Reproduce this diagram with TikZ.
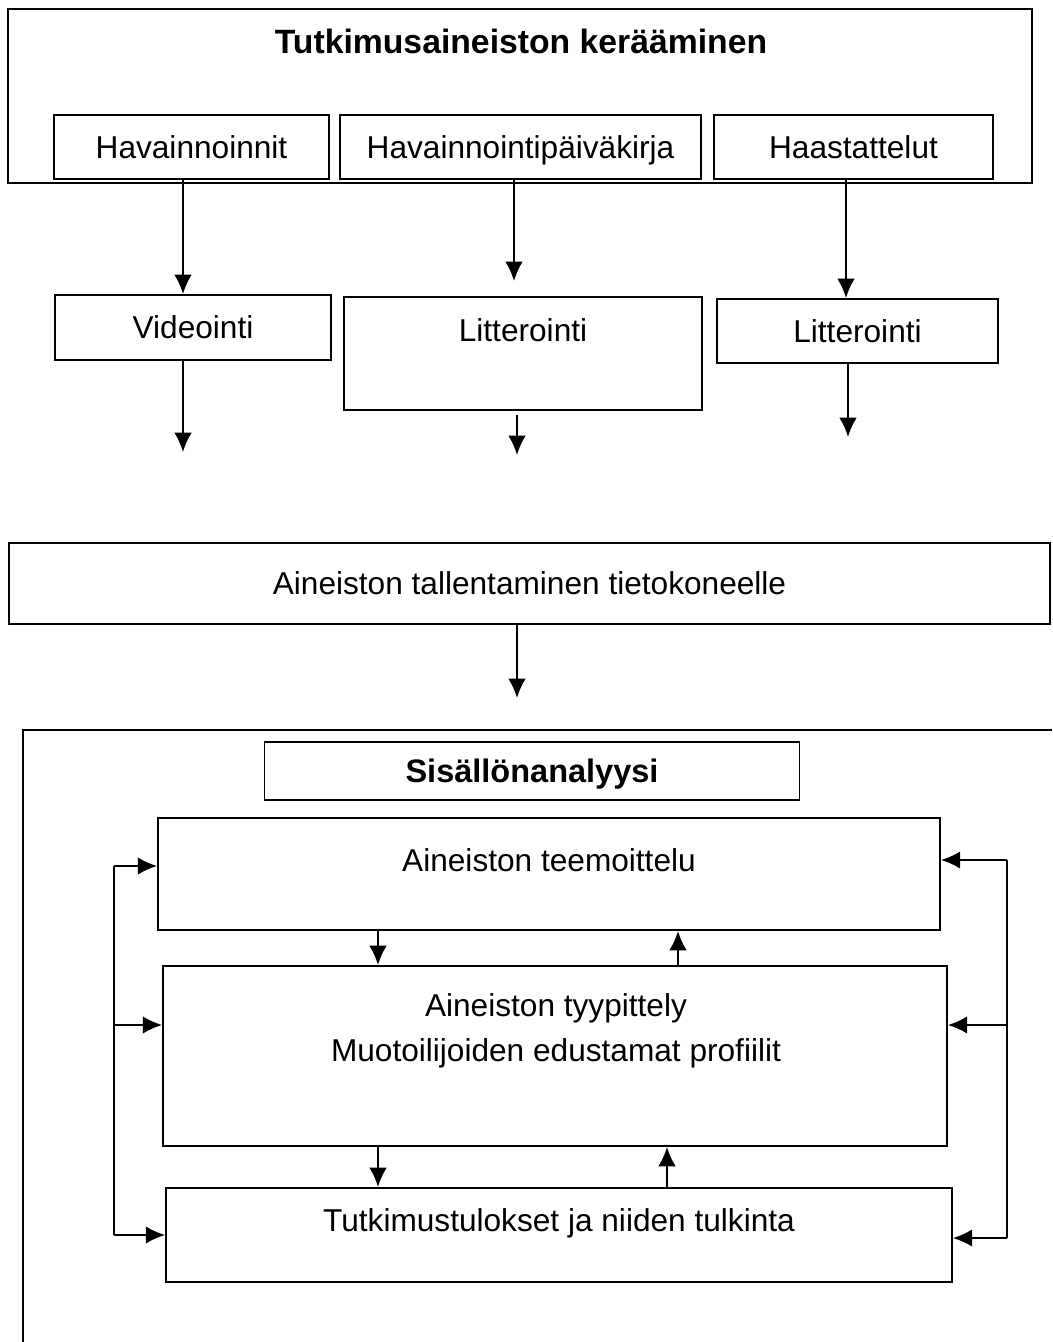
\documentclass[tikz,border=0pt]{standalone}
\usepackage{fontspec}
\setmainfont{Liberation Sans}
\usepackage{tikz}
\usetikzlibrary{arrows.meta}

\begin{document}
\begin{tikzpicture}[x=0.02cm, y=-0.02cm, line width=1.1pt,
	box/.style={draw, inner sep=0pt, text height=13pt, text depth=0pt, font=\fontsize{18}{21}\selectfont},
	txt/.style={inner sep=0pt, text height=13pt, text depth=0pt, font=\fontsize{18}{21}\selectfont},
	flow/.style={-{Latex[length=11pt,width=10pt]}, line width=1.2pt}]

			\useasboundingbox (0,0) rectangle (1052,1342);

			% collecting the data
			\node [box, minimum width=20.48cm, minimum height=3.48cm] (collect) at (520,96) {};
			\node [txt, font=\fontsize{19.2}{22}\selectfont\bfseries] (collecttitle) at (521,42) {Tutkimusaineiston kerääminen};
			\node [box, minimum width=5.5cm, minimum height=1.28cm] (hav) at (191.5,147) {Havainnoinnit};
			\node [box, minimum width=7.22cm, minimum height=1.28cm] (diary) at (520.5,147) {Havainnointipäiväkirja};
			\node [box, minimum width=5.58cm, minimum height=1.28cm] (inter) at (853.5,147) {Haastattelut};

			\node [box, minimum width=5.52cm, minimum height=1.3cm] (video) at (193,327.5) {Videointi};
			\node [box, minimum width=7.16cm, minimum height=2.26cm] (lit1) at (523,353.5) {};
			\node [txt] (lit1txt) at (523,330) {Litterointi};
			\node [box, minimum width=5.62cm, minimum height=1.28cm] (lit2) at (857.5,331) {Litterointi};

			\node [box, minimum width=20.82cm, minimum height=1.62cm] (save) at (529.5,583.5) {Aineiston tallentaminen tietokoneelle};

			\coordinate (col1) at (183,0);
			\coordinate (col2) at (516,0);
			\coordinate (col3) at (846,0);
			\coordinate (mid2) at (514,281);
			\coordinate (end1) at (183,452);
			\coordinate (end2) at (517,455);
			\coordinate (end3) at (848,437);
			\coordinate (end4) at (517,698);

			\draw [flow] (hav.south -| col1) -- (video.north -| col1);
			\draw [flow] (diary.south -| mid2) -- (mid2);
			\draw [flow] (inter.south -| col3) -- (lit2.north -| col3);
			\draw [flow] (video.south -| end1) -- (end1);
			\draw [flow] ([yshift=-0.08cm]lit1.south -| end2) -- (end2);
			\draw [flow] (lit2.south -| end3) -- (end3);
			\draw [flow] (save.south -| end4) -- (end4);

			% content analysis
			\draw (23,1342) -- (23,730) -- (1052,730);
			\node [box, line width=0.6pt, minimum width=10.72cm, minimum height=1.16cm,
				font=\fontsize{18.5}{22}\selectfont\bfseries] (analysis) at (532,771) {Sisällönanalyysi};

			\node [box, minimum width=15.64cm, minimum height=2.24cm] (theme) at (549,874) {};
			\node [txt] (themetxt) at (549,860) {Aineiston teemoittelu};
			\node [box, minimum width=15.68cm, minimum height=3.6cm] (type) at (555,1056) {};
			\node [txt] (typetxt) at (556,1005) {Aineiston tyypittely};
			\node [txt] (profiletxt) at (556,1050) {Muotoilijoiden edustamat profiilit};
			\node [box, minimum width=15.72cm, minimum height=1.88cm] (result) at (559,1235) {};
			\node [txt] (resulttxt) at (559,1220) {Tutkimustulokset ja niiden tulkinta};

			\coordinate (down) at (378,0);
			\coordinate (up1) at (678,0);
			\coordinate (up2) at (667,0);
			\draw [flow] (theme.south -| down) -- (type.north -| down);
			\draw [flow] (type.north -| up1) -- (theme.south -| up1);
			\draw [flow] (type.south -| down) -- (result.north -| down);
			\draw [flow] (result.north -| up2) -- (type.south -| up2);

			% feedback loops
			\coordinate (lt) at (114,866);
			\coordinate (lm) at (114,1025);
			\coordinate (lb) at (114,1235);
			\coordinate (rt) at (1007,860);
			\coordinate (rm) at (1007,1025);
			\coordinate (rb) at (1007,1238);
			\draw (lt) -- (lb);
			\draw (rt) -- (rb);
			\draw [flow] (lt) -- (theme.west |- lt);
			\draw [flow] (lm) -- (type.west |- lm);
			\draw [flow] (lb) -- (result.west |- lb);
			\draw [flow] (rt) -- (theme.east |- rt);
			\draw [flow] (rm) -- (type.east |- rm);
			\draw [flow] (rb) -- (result.east |- rb);
		\end{tikzpicture}
\end{document}
